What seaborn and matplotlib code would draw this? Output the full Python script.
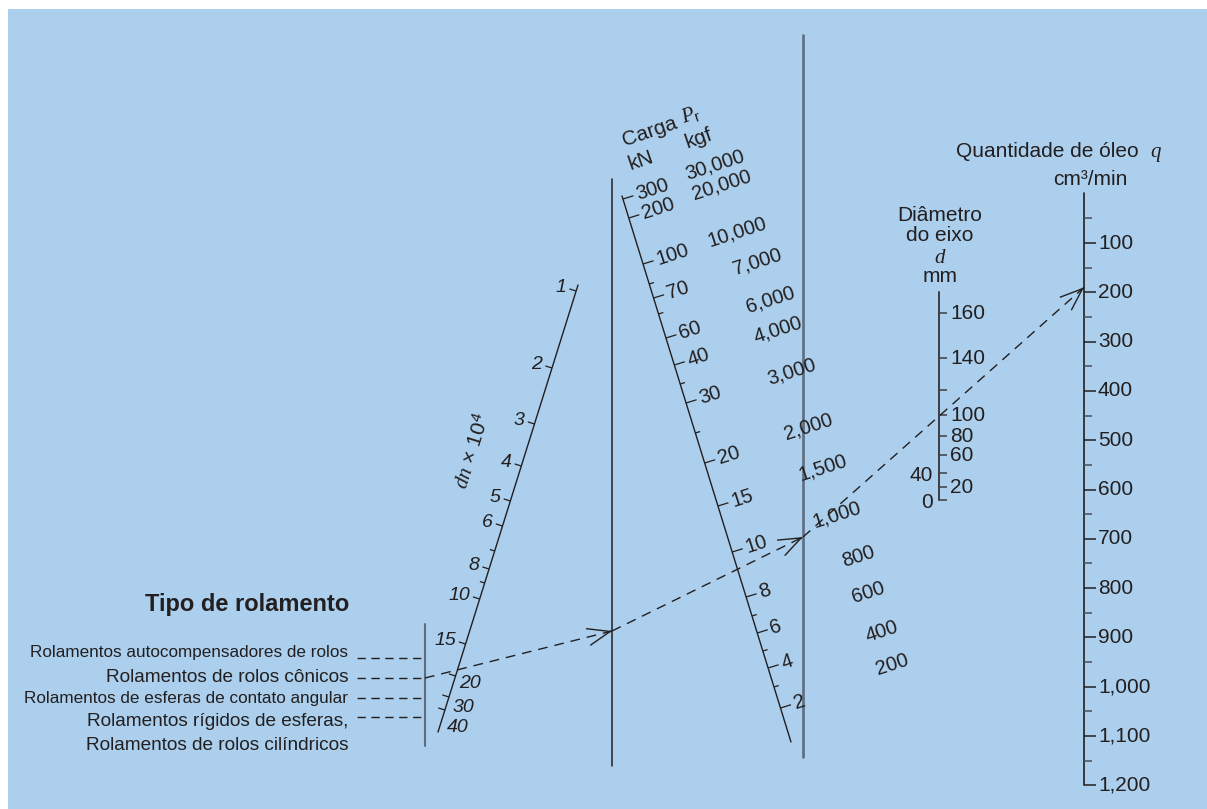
import matplotlib
matplotlib.use("Agg")
import matplotlib.pyplot as plt
import seaborn as sns
import numpy as np
from matplotlib.patches import Rectangle

# --- data ---
bearing_types = ["Rolamentos autocompensadores de rolos",
                 "Rolamentos de rolos cônicos",
                 "Rolamentos de esferas de contato angular",
                 "Rolamentos rígidos de esferas,",
                 "Rolamentos de rolos cilíndricos"]

dn_vals = [1, 2, 3, 4, 5, 6, 8, 10, 15, 20, 30, 40]
dn_pos = [291, 368, 424, 466, 501, 526, 569, 599, 644, 676, 697, 710]
dn_minor_pos = [551, 583]

kn_vals = [300, 200, 100, 70, 60, 40, 30, 20, 15, 10, 8, 6, 4, 2]
kn_pos = [199, 218, 264, 298, 338, 365, 403, 463, 506, 552, 597, 633, 668, 708]
kn_minor_pos = [284, 314, 384, 433, 616, 651, 687]

kgf_labels = ["30,000", "20,000", "10,000", "7,000", "6,000", "4,000", "3,000",
              "2,000", "1,500", "1,000", "800", "600", "400", "200"]

d_vals = [160, 140, 100, 80, 60, 40, 20, 0]
d_pos = [313, 358, 415, 436, 455, 473, 487, 500]
d_minor_pos = [390]

q_major = list(range(100, 1300, 100))
q_minor = list(range(50, 1200, 100))
q_example = 190

# --- layout ---
INK = "#231f20"
GREY = "#5e6d80"
BG = "#abcfec"
FS = 15

kgf_xy = [(715, 165), (722, 185), (737, 232), (757, 262), (770, 300), (778, 330),
          (792, 372), (808, 427), (823, 468), (837, 515), (858, 557), (868, 593),
          (882, 632), (892, 665)]
type_text_y = [652, 678, 698, 722, 745]
type_text_fs = [12.3, 13.7, 12.3, 13.7, 13.7]
type_lead_y = [658, 678, 698, 717]

sns.set_style("white")
plt.rcParams["font.family"] = ["Liberation Sans", "DejaVu Sans"]
plt.rcParams["mathtext.fontset"] = "custom"
plt.rcParams["mathtext.rm"] = "Liberation Sans"
plt.rcParams["mathtext.it"] = "Liberation Serif:italic"
plt.rcParams["mathtext.bf"] = "Liberation Sans:bold"

fig = plt.figure(figsize=(12.07, 8.09), dpi=100)
fig.patch.set_facecolor("white")
ax = fig.add_axes([0, 0, 1, 1])
ax.add_patch(Rectangle((8, 9), 1199, 800, facecolor=BG, edgecolor="none", zorder=0))


def seg(xs, ys, color=INK, lw=1.0, **kw):
    sns.lineplot(x=xs, y=ys, estimator=None, sort=False, color=color,
                 linewidth=lw, ax=ax, legend=False, **kw)


def ticks(points, normal, length, color=INK, lw=0.9):
    xs, ys = [], []
    for p in points:
        e = p + length * normal
        xs += [p[0], e[0], np.nan]
        ys += [p[1], e[1], np.nan]
    ax.plot(xs, ys, color=color, lw=lw, solid_capstyle="butt")


# vertical pivot lines
seg([612, 612], [179, 766], lw=1.1)
seg([803, 803], [35, 757], color=GREY, lw=1.9)

# dn scale (slanted)
dn_top, dn_bot = np.array([578.0, 285.0]), np.array([438.0, 732.0])
dn_u = (dn_bot - dn_top) / np.linalg.norm(dn_bot - dn_top)
dn_n = np.array([-dn_u[1], dn_u[0]])
dn_at = lambda y: dn_top + (y - dn_top[1]) / (dn_bot[1] - dn_top[1]) * (dn_bot - dn_top)
seg([dn_top[0], dn_bot[0]], [dn_top[1], dn_bot[1]], lw=1.0)
ticks([dn_at(y) for y in dn_pos], dn_n, 7)
ticks([dn_at(y) for y in dn_minor_pos], dn_n, 5)
for v, y in zip(dn_vals, dn_pos):
    p = dn_at(y)
    if v < 20:
        e = p + 7 * dn_n
        ax.text(e[0] - 3, e[1] - 1, str(v), ha="right", va="center",
                fontsize=14, style="italic", color=INK)
    else:
        off = {20: (4, 8), 30: (4, 10), 40: (2, 17)}[v]
        ax.text(p[0] + off[0], p[1] + off[1], str(v), ha="left", va="center",
                fontsize=14, style="italic", color=INK)
ax.text(472, 451, r"$dn$ × 10$^{4}$", rotation=72.6, ha="center", va="center",
        fontsize=FS, color=INK, rotation_mode="anchor")

# load scale (slanted)
ld_top, ld_bot = np.array([622.0, 196.0]), np.array([791.0, 742.0])
ld_u = (ld_bot - ld_top) / np.linalg.norm(ld_bot - ld_top)
ld_n = np.array([ld_u[1], -ld_u[0]])
ld_at = lambda y: ld_top + (y - ld_top[1]) / (ld_bot[1] - ld_top[1]) * (ld_bot - ld_top)
seg([ld_top[0], ld_bot[0]], [ld_top[1], ld_bot[1]], lw=1.0)
ticks([ld_at(y) for y in kn_pos], ld_n, 11)
ticks([ld_at(y) for y in kn_minor_pos], ld_n, 5)
for v, y in zip(kn_vals, kn_pos):
    e = ld_at(y) + 14 * ld_n
    ax.text(e[0], e[1], str(v), ha="left", va="center", rotation=18,
            rotation_mode="anchor", fontsize=14.5, color=INK)
for lab, (x, y) in zip(kgf_labels, kgf_xy):
    ax.text(x, y, lab, ha="center", va="center", rotation=18,
            rotation_mode="anchor", fontsize=14.5, color=INK)
ax.text(650, 132, "Carga", ha="center", va="center", rotation=19,
        rotation_mode="anchor", fontsize=FS, color=INK)
ax.text(691, 115, r"$P_{\mathrm{r}}$", ha="center", va="center", rotation=19,
        rotation_mode="anchor", fontsize=FS, color=INK)
ax.text(641, 161, "kN", ha="center", va="center", rotation=19,
        rotation_mode="anchor", fontsize=FS, color=INK)
ax.text(699, 138, "kgf", ha="center", va="center", rotation=19,
        rotation_mode="anchor", fontsize=FS, color=INK)

# shaft diameter scale
seg([939, 939], [292, 500], color="#3c3c44", lw=1.4)
ticks([np.array([939.0, y]) for y in d_pos + d_minor_pos], np.array([1.0, 0.0]), 8,
      color="#3c3c44", lw=1.1)
for v, y in zip(d_vals, d_pos):
    if v in (40, 0):
        ax.text(933, y + 2, str(v), ha="right", va="center", fontsize=FS, color=INK)
    else:
        ax.text(950, y, str(v), ha="left", va="center", fontsize=FS, color=INK)
ax.text(940, 221, "Diâmetro", ha="center", va="baseline", fontsize=FS, color=INK)
ax.text(940, 241, "do eixo", ha="center", va="baseline", fontsize=FS, color=INK)
ax.text(940, 263, r"$d$", ha="center", va="baseline", fontsize=FS, color=INK)
ax.text(940, 282, "mm", ha="center", va="baseline", fontsize=FS, color=INK)

# oil quantity scale
q0, qk = 193.7, 0.493
qy = lambda q: q0 + qk * q
seg([1084, 1084], [193, qy(1200)], lw=1.2)
ticks([np.array([1084.0, qy(q)]) for q in q_major], np.array([1.0, 0.0]), 12, lw=1.1)
ticks([np.array([1084.0, qy(q)]) for q in q_minor], np.array([1.0, 0.0]), 8,
      color="#4a4f5a", lw=1.1)
for q in q_major:
    ax.text(1098, qy(q), f"{q:,}", ha="left", va="center", fontsize=FS, color=INK)
ax.text(1047, 157, "Quantidade de óleo", ha="center", va="baseline", fontsize=FS, color=INK)
ax.text(1156, 157, r"$q$", ha="center", va="baseline", fontsize=FS, color=INK)
ax.text(1090, 185, "cm³/min", ha="center", va="baseline", fontsize=FS, color=INK)

# bearing type column
seg([425, 425], [624, 746], color=GREY, lw=1.5)
for y in type_lead_y:
    seg([357, 425], [y, y], lw=1.0, linestyle=(0, (6, 4)))
for lab, y, fs in zip(bearing_types, type_text_y, type_text_fs):
    ax.text(348, y, lab, ha="right", va="center", fontsize=fs, color=INK)
ax.text(247, 605, "Tipo de rolamento", ha="center", va="center",
        fontsize=17, fontweight="bold", color=INK)

# worked example path
path = [np.array([425.0, type_lead_y[1]]), np.array([612.0, 631.0]),
        np.array([803.0, 537.0]), np.array([1084.0, qy(q_example)])]
for a, b in zip(path[:-1], path[1:]):
    seg([a[0], b[0]], [a[1], b[1]], lw=1.0, linestyle=(0, (7, 5)))
    u = (b - a) / np.linalg.norm(b - a)
    ax.annotate("", xy=b, xytext=b - 2 * u,
                arrowprops=dict(arrowstyle="->,head_length=1.0,head_width=0.38",
                                color=INK, lw=1.0, shrinkA=0, shrinkB=0,
                                mutation_scale=16))

ax.set_xlim(0, 1207)
ax.set_ylim(809, 0)
ax.axis("off")
fig.savefig("out.png", dpi=100, facecolor="white")
